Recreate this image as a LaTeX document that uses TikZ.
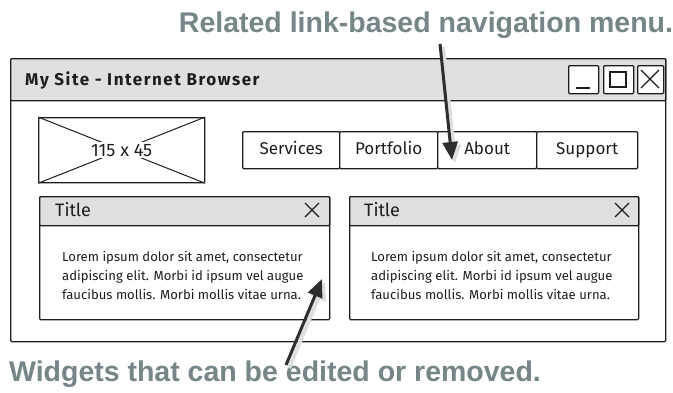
\documentclass[tikz,border=0pt]{standalone}
\usepackage{fontspec}
\setmainfont{Fira Sans}
\newfontfamily\capfont{Liberation Sans}
\usetikzlibrary{arrows.meta}
\definecolor{barfill}{RGB}{223,224,224}
\definecolor{captxt}{RGB}{118,133,135}
\definecolor{arrowc}{RGB}{45,45,45}
\definecolor{inkc}{RGB}{30,30,30}
\definecolor{shadowc}{RGB}{222,222,222}
\tikzset{
  sketch/.style={draw=inkc, line width=1.3pt, rounded corners=1pt, anchor=north west, inner sep=0pt},
  bar/.style={sketch, fill=barfill},
  box/.style={sketch, fill=white},
  navbox/.style={sketch, fill=white, minimum height=37pt, text height=12pt, text depth=3pt, font=\fontsize{17}{20}\selectfont, text=inkc},
  glyph/.style={draw=inkc, line width=1.3pt},
  caption/.style={font=\capfont\bfseries\fontsize{28.5}{32}\selectfont, text=captxt, inner sep=0pt},
  body/.style={font=\fontsize{13.1}{19}\selectfont, align=left, anchor=west, inner sep=0pt, text=inkc},
  wtitle/.style={anchor=west, inner sep=0pt, font=\fontsize{18}{20}\selectfont, text=inkc},
  pointer/.style={draw=arrowc, line width=3pt, -{Triangle[length=18pt,width=15pt]}},
  pshadow/.style={draw=shadowc, line width=4pt, -{Triangle[length=18pt,width=16pt]}}
}
\begin{document}
\begin{tikzpicture}[x=1pt,y=-1pt]
\path[use as bounding box, fill=white] (0,0) rectangle (673,392);
% window
\node[box, minimum width=655pt, minimum height=283pt] (win) at (10,58) {};
\node[bar, minimum width=655pt, minimum height=42pt] (tbar) at (10,58) {};
\node[anchor=west, inner sep=0pt, font=\bfseries\fontsize{17}{20}\selectfont\addfontfeature{LetterSpace=9}, text=inkc] (wintitle) at (25,80) {My Site - Internet Browser};
% window buttons
\node[box, minimum width=30pt, minimum height=28pt] (minb) at (568,65) {};
\node[box, minimum width=30pt, minimum height=28pt] (maxb) at (603,65) {};
\node[box, minimum width=26pt, minimum height=28pt] (closeb) at (637,65) {};
\draw[glyph] (576,88) -- (590,88);
\draw[glyph] (610,72) rectangle (626,87);
\draw[glyph] (641,70) -- (659,88) (641,88) -- (659,70);
% image placeholder
\node[box, minimum width=166pt, minimum height=65pt] (img) at (38,117) {};
\draw[glyph, line width=1pt] (img.north west) -- (img.south east) (img.south west) -- (img.north east);
\node[fill=white, inner sep=2pt, font=\fontsize{18}{20}\selectfont, text=inkc] (imgtxt) at (img.center) {115 x 45};
% navigation
\node[navbox, minimum width=97pt] (nav1) at (242,131) {Services};
\node[navbox, minimum width=98pt] (nav2) at (339,131) {Portfolio};
\node[navbox, minimum width=99pt] (nav3) at (437,131) {About};
\node[navbox, minimum width=101pt] (nav4) at (536,131) {Support};
% widget 1
\node[box, minimum width=290pt, minimum height=123pt] (w1) at (39,196) {};
\node[bar, minimum width=290pt, minimum height=29pt] (w1t) at (39,196) {};
\node[wtitle] (w1title) at (55,210) {Title};
\draw[glyph] (305,203) -- (319,217) (305,217) -- (319,203);
\node[body] (w1body) at (62,275) {Lorem ipsum dolor sit amet, consectetur\\adipiscing elit. Morbi id ipsum vel augue\\faucibus mollis. Morbi mollis vitae urna.};
% widget 2
\node[box, minimum width=289pt, minimum height=123pt] (w2) at (349,196) {};
\node[bar, minimum width=289pt, minimum height=29pt] (w2t) at (349,196) {};
\node[wtitle] (w2title) at (364,210) {Title};
\draw[glyph] (615,203) -- (629,217) (615,217) -- (629,203);
\node[body] (w2body) at (371,275) {Lorem ipsum dolor sit amet, consectetur\\adipiscing elit. Morbi id ipsum vel augue\\faucibus mollis. Morbi mollis vitae urna.};
% captions
\node[caption] (cap1) at (426,25) {Related link-based navigation menu.};
\node[caption] (cap2) at (275,374) {Widgets that can be edited or removed.};
% pointers
\coordinate (p1s) at (440,44);
\coordinate (p1e) at (452,160);
\coordinate (p2s) at (286,365);
\coordinate (p2e) at (322,279);
\draw[pshadow] ([shift={(3,3)}]p1s) -- ([shift={(3,3)}]p1e);
\draw[pshadow] ([shift={(3,3)}]p2s) -- ([shift={(3,3)}]p2e);
\draw[pointer] (p1s) -- (p1e);
\draw[pointer] (p2s) -- (p2e);
\end{tikzpicture}
\end{document}
